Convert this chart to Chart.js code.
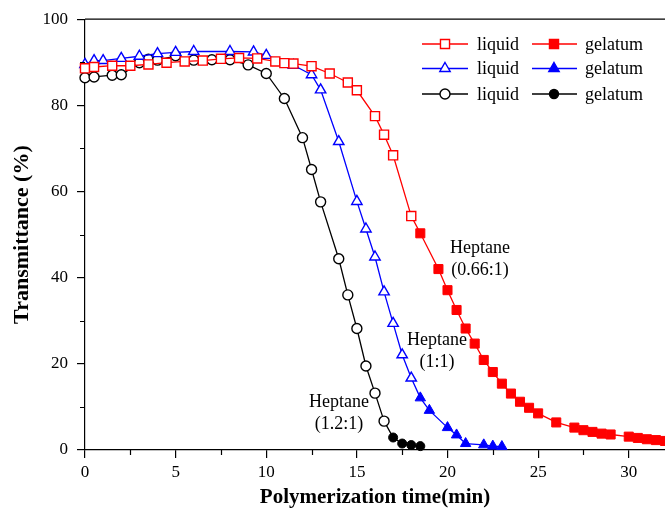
<!DOCTYPE html>
<html>
<head>
<meta charset="utf-8">
<script src="https://cdn.jsdelivr.net/npm/chart.js@4.4.0/dist/chart.umd.min.js"></script>
<style>
  html, body { margin: 0; padding: 0; background: #fff; }
  #wrap { width: 665px; height: 513px; }
</style>
</head>
<body>
<div id="wrap"><canvas id="chart" width="665" height="513"></canvas></div>
<script>
// --- Data ---
// Heptane (0.66:1), red squares
const redLiquidX = [0, 0.5, 1.5, 2.5, 3.5, 4.5, 5.5, 6.5, 7.5, 8.5, 9.5, 10.5, 11, 11.5, 12.5, 13.5, 14.5, 15, 16, 16.5, 17, 18];
const redLiquidY = [88.6, 88.9, 89.2, 89.2, 89.5, 89.9, 90.2, 90.4, 90.8, 91.0, 90.9, 90.2, 89.8, 89.7, 89.1, 87.4, 85.3, 83.5, 77.5, 73.2, 68.4, 54.3];
const redGelX = [18.5, 19.5, 20, 20.5, 21, 21.5, 22, 22.5, 23, 23.5, 24, 24.5, 25, 26, 27, 27.5, 28, 28.5, 29, 30, 30.5, 31, 31.5, 32];
const redGelY = [50.3, 42.0, 37.1, 32.5, 28.2, 24.7, 20.9, 18.1, 15.4, 13.1, 11.2, 9.8, 8.5, 6.4, 5.2, 4.6, 4.2, 3.8, 3.6, 3.1, 2.8, 2.5, 2.3, 2.1];

// Heptane (1:1), blue triangles
const blueLiquidX = [0, 0.5, 1, 2, 3, 4, 5, 6, 8, 9.3, 10, 11.5, 12.5, 13, 14, 15, 15.5, 16, 16.5, 17, 17.5, 18];
const blueLiquidY = [89.5, 90.4, 90.4, 90.9, 91.4, 92.0, 92.3, 92.5, 92.5, 92.4, 91.6, 89.3, 87.1, 83.6, 71.6, 57.7, 51.3, 44.8, 36.7, 29.4, 22.1, 16.7];
const blueGelX = [18.5, 19, 20, 20.5, 21, 22, 22.5, 23];
const blueGelY = [12.1, 9.2, 5.2, 3.5, 1.5, 1.2, 0.9, 0.8];

// Heptane (1.2:1), black circles
const blackLiquidX = [0, 0.5, 1.5, 2, 3, 3.5, 4, 5, 6, 7, 8, 9, 10, 11, 12, 12.5, 13, 14, 14.5, 15, 15.5, 16, 16.5];
const blackLiquidY = [86.4, 86.6, 87.0, 87.1, 89.9, 90.7, 90.5, 91.5, 90.5, 90.6, 90.6, 89.4, 87.4, 81.6, 72.5, 65.1, 57.6, 44.4, 36.0, 28.2, 19.5, 13.2, 6.7];
const blackGelX = [17, 17.5, 18, 18.5];
const blackGelY = [2.9, 1.5, 1.15, 0.9];

// Axis ticks
const xTickValues = [0, 5, 10, 15, 20, 25, 30];
const yTickValues = [0, 20, 40, 60, 80, 100];
const xMinorTicks = [2.5, 7.5, 12.5, 17.5, 22.5, 27.5];
const yMinorTicks = [10, 30, 50, 70, 90];

const legendLabels = ['liquid', 'gelatum'];
const seriesNotes = [
    { lines: ['Heptane', '(0.66:1)'], x: 480, y: 248 },
    { lines: ['Heptane', '(1:1)'], x: 437, y: 340 },
    { lines: ['Heptane', '(1.2:1)'], x: 339, y: 402 }
];

const SERIF = "'Liberation Serif', 'Times New Roman', serif";

function toPoints(xs, ys) {
    return xs.map((x, i) => ({ x: x, y: ys[i] }));
}

// Each group: open markers for liquid, filled for gelatum
const groups = [
    { color: '#ff0000', style: 'rect', r: 6.4, lx: redLiquidX, ly: redLiquidY, gx: redGelX, gy: redGelY },
    { color: '#0000ff', style: 'triangle', r: 6, lx: blueLiquidX, ly: blueLiquidY, gx: blueGelX, gy: blueGelY },
    { color: '#000000', style: 'circle', r: 5, lx: blackLiquidX, ly: blackLiquidY, gx: blackGelX, gy: blackGelY }
];

const datasets = [];
groups.forEach(g => {
    datasets.push({
        label: 'liquid',
        data: toPoints(g.lx, g.ly),
        borderColor: g.color,
        borderWidth: 1.3,
        pointStyle: g.style,
        pointRadius: g.r,
        pointBorderWidth: 1.4,
        pointBackgroundColor: '#ffffff',
        pointBorderColor: g.color,
        clip: false
    });
    // the gelatum line starts from the last liquid point (hidden marker)
    const lastX = g.lx[g.lx.length - 1];
    const lastY = g.ly[g.ly.length - 1];
    datasets.push({
        label: 'gelatum',
        data: [{ x: lastX, y: lastY }].concat(toPoints(g.gx, g.gy)),
        borderColor: g.color,
        borderWidth: 1.3,
        pointStyle: g.style,
        pointRadius: ctx => ctx.dataIndex === 0 ? 0 : (g.style === 'circle' ? g.r - 0.5 : g.r),
        pointBorderWidth: 1,
        pointBackgroundColor: g.color,
        pointBorderColor: g.color,
        clip: false
    });
});

// draw a marker like Chart.js does, for the legend
function drawMarker(ctx, style, x, y, r, fill, stroke) {
    ctx.beginPath();
    if (style === 'rect') {
        const s = Math.SQRT1_2 * r;
        ctx.rect(x - s, y - s, 2 * s, 2 * s);
    } else if (style === 'triangle') {
        ctx.moveTo(x, y - r);
        ctx.lineTo(x + Math.sin(Math.PI * 2 / 3) * r, y + r / 2);
        ctx.lineTo(x - Math.sin(Math.PI * 2 / 3) * r, y + r / 2);
        ctx.closePath();
    } else {
        ctx.arc(x, y, r, 0, Math.PI * 2);
    }
    ctx.fillStyle = fill;
    ctx.fill();
    ctx.lineWidth = 1.4;
    ctx.strokeStyle = stroke;
    ctx.stroke();
}

const extrasPlugin = {
    id: 'extras',
    afterDraw(chart) {
        const ctx = chart.ctx;
        const area = chart.chartArea;
        const xScale = chart.scales.x;
        const yScale = chart.scales.y;
        ctx.save();

        // top frame line
        ctx.strokeStyle = '#000';
        ctx.lineWidth = 1.2;
        ctx.beginPath();
        ctx.moveTo(area.left, area.top);
        ctx.lineTo(area.right, area.top);
        ctx.stroke();

        // minor ticks (outward)
        ctx.beginPath();
        xMinorTicks.forEach(v => {
            const px = Math.round(xScale.getPixelForValue(v)) + 0.5;
            ctx.moveTo(px, area.bottom);
            ctx.lineTo(px, area.bottom + 5);
        });
        yMinorTicks.forEach(v => {
            const py = Math.round(yScale.getPixelForValue(v)) + 0.5;
            ctx.moveTo(area.left, py);
            ctx.lineTo(area.left - 5, py);
        });
        ctx.stroke();

        // legend: two columns (liquid / gelatum), one row per colour
        const rowsY = [44, 68.5, 94];
        const cols = [{ x0: 422, x1: 468, mx: 445, tx: 477 }, { x0: 532, x1: 577, mx: 554, tx: 585 }];
        ctx.font = '18px ' + SERIF;
        ctx.textBaseline = 'middle';
        ctx.textAlign = 'left';
        groups.forEach((g, row) => {
            cols.forEach((c, ci) => {
                const y = rowsY[row];
                ctx.strokeStyle = g.color;
                ctx.lineWidth = 1.3;
                ctx.beginPath();
                ctx.moveTo(c.x0, y);
                ctx.lineTo(c.x1, y);
                ctx.stroke();
                const r = (ci === 1 && g.style === 'circle') ? g.r - 0.5 : g.r;
                drawMarker(ctx, g.style, c.mx, y, r, ci === 0 ? '#ffffff' : g.color, g.color);
                ctx.fillStyle = '#000';
                ctx.fillText(legendLabels[ci], c.tx, y + 1);
            });
        });

        // series notes
        ctx.textAlign = 'center';
        seriesNotes.forEach(n => {
            n.lines.forEach((t, i) => ctx.fillText(t, n.x, n.y + i * 22));
        });

        ctx.restore();
    }
};

const chart = new Chart(document.getElementById('chart').getContext('2d'), {
    type: 'line',
    data: { datasets: datasets },
    plugins: [extrasPlugin],
    options: {
        responsive: false,
        animation: false,
        layout: { autoPadding: false, padding: { top: 17, right: 0, left: 0, bottom: 0 } },
        plugins: {
            legend: { display: false },
            tooltip: { enabled: false }
        },
        elements: { line: { tension: 0 } },
        scales: {
            x: {
                type: 'linear',
                min: 0,
                max: 32,
                afterFit(scale) { scale.height = 63; },
                afterBuildTicks(scale) { scale.ticks = xTickValues.map(v => ({ value: v })); },
                ticks: {
                    padding: 4,
                    color: '#000',
                    font: { family: SERIF, size: 17 },
                    maxRotation: 0,
                    autoSkip: false
                },
                grid: { drawOnChartArea: false, tickLength: 8, color: '#000', lineWidth: 1.2 },
                border: { display: true, color: '#000', width: 1.2 },
                title: {
                    display: true,
                    text: 'Polymerization time(min)',
                    color: '#000',
                    font: { family: SERIF, size: 21, weight: 'bold' },
                    padding: { top: 0, bottom: 3 }
                }
            },
            y: {
                min: 0,
                max: 100,
                afterFit(scale) { scale.width = 85; },
                afterBuildTicks(scale) { scale.ticks = yTickValues.map(v => ({ value: v })); },
                ticks: {
                    padding: 9,
                    color: '#000',
                    font: { family: SERIF, size: 17 }
                },
                grid: { drawOnChartArea: false, tickLength: 8, color: '#000', lineWidth: 1.2 },
                border: { display: true, color: '#000', width: 1.2 },
                title: {
                    display: true,
                    text: 'Transmittance (%)',
                    color: '#000',
                    font: { family: SERIF, size: 22, weight: 'bold' },
                    padding: { top: 9, bottom: 0 }
                }
            }
        }
    }
});
</script>
</body>
</html>
